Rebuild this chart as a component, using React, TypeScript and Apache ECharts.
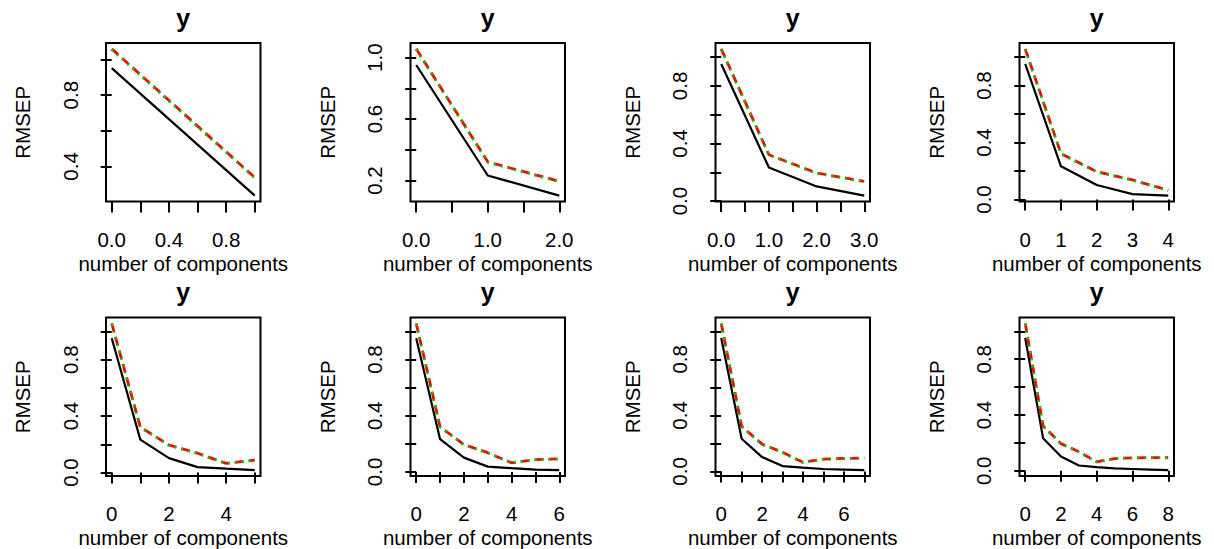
import React, { useEffect, useRef } from "react";
import * as echarts from "echarts";

// RMSEP values by number of components (0..8)
const trainRmsep = [0.952, 0.233, 0.102, 0.038, 0.027, 0.017, 0.013, 0.009, 0.005];
const cvRmsep = [1.057, 0.322, 0.195, 0.137, 0.065, 0.088, 0.093, 0.095, 0.094];
const adjCvRmsep = [1.052, 0.318, 0.192, 0.134, 0.063, 0.086, 0.091, 0.093, 0.092];
// the one-component model (first panel)
const trainOneComp = [0.952, 0.236];
const cvOneComp = [1.06, 0.338];
const adjCvOneComp = [1.055, 0.334];

const panelComponents = [1, 2, 3, 4, 5, 6, 7, 8];
const panelTitle = "y";
const xAxisTitle = "number of components";
const yAxisTitle = "RMSEP";

const xTickValues = [
  [0, 0.2, 0.4, 0.6, 0.8, 1],
  [0, 0.5, 1, 1.5, 2],
  [0, 0.5, 1, 1.5, 2, 2.5, 3],
  [0, 1, 2, 3, 4],
  [0, 1, 2, 3, 4, 5],
  [0, 1, 2, 3, 4, 5, 6],
  [0, 1, 2, 3, 4, 5, 6, 7],
  [0, 2, 4, 6, 8],
];
const xLabelValues = [
  [0, 0.4, 0.8],
  [0, 1, 2],
  [0, 1, 2, 3],
  [0, 1, 2, 3, 4],
  [0, 2, 4],
  [0, 2, 4, 6],
  [0, 2, 4, 6],
  [0, 2, 4, 6, 8],
];
const xLabelDecimals = [1, 1, 1, 0, 0, 0, 0, 0];
const yTickFull = [0, 0.2, 0.4, 0.6, 0.8, 1.0];
const yTickValues = [
  [0.4, 0.6, 0.8, 1.0],
  [0.2, 0.4, 0.6, 0.8, 1.0],
  yTickFull, yTickFull, yTickFull, yTickFull, yTickFull, yTickFull,
];
const yLabelValues = [
  [0.4, 0.8],
  [0.2, 0.6, 1.0],
  [0, 0.4, 0.8], [0, 0.4, 0.8], [0, 0.4, 0.8], [0, 0.4, 0.8], [0, 0.4, 0.8], [0, 0.4, 0.8],
];

const COL_LEFT = [106, 410.5, 715.5, 1019.5];
const ROW_TOP = [43, 317.5];
const BOX_W = 154.5;
const BOX_H = 158.5;
const FONT = "'Liberation Sans', Arial, Helvetica, sans-serif";
const FS = 20.5;

export default function App() {
  const ref = useRef<HTMLDivElement>(null);
  useEffect(() => {
    if (!ref.current) return;
    const chart = echarts.init(ref.current, undefined, { renderer: "svg" });
    const grids: any[] = [];
    const xAxes: any[] = [];
    const yAxes: any[] = [];
    const series: any[] = [];
    const graphics: any[] = [];

    panelComponents.forEach((k, i) => {
      const r = Math.floor(i / 4);
      const c = i % 4;
      const left = COL_LEFT[c];
      const top = ROW_TOP[r];
      const tr = k === 1 ? trainOneComp : trainRmsep.slice(0, k + 1);
      const cv = k === 1 ? cvOneComp : cvRmsep.slice(0, k + 1);
      const adj = k === 1 ? adjCvOneComp : adjCvRmsep.slice(0, k + 1);
      const all = [...tr, ...cv, ...adj];
      const lo = Math.min(...all);
      const hi = Math.max(...all);
      const pad = (hi - lo) * 0.04;

      grids.push({
        left,
        top,
        width: BOX_W,
        height: BOX_H,
        show: true,
        borderColor: "#000",
        borderWidth: 2,
        backgroundColor: "transparent",
        containLabel: false,
      });
      const dec = xLabelDecimals[i];
      xAxes.push({
        type: "value",
        gridIndex: i,
        min: -0.04 * k,
        max: 1.04 * k,
        name: xAxisTitle,
        nameLocation: "middle",
        nameGap: 51,
        nameTextStyle: { fontSize: FS, color: "#000", fontFamily: FONT },
        axisLine: { show: false },
        splitLine: { show: false },
        axisTick: {
          show: true,
          length: 11,
          customValues: xTickValues[i],
          lineStyle: { color: "#000", width: 2 },
        },
        axisLabel: {
          show: true,
          customValues: xLabelValues[i],
          margin: 27,
          fontSize: FS,
          color: "#000",
          fontFamily: FONT,
          formatter: (v: number) => Number(v).toFixed(dec),
        },
      });
      yAxes.push({
        type: "value",
        gridIndex: i,
        min: lo - pad,
        max: hi + pad,
        name: yAxisTitle,
        nameLocation: "middle",
        nameGap: 73,
        nameRotate: 90,
        nameTextStyle: { fontSize: FS, color: "#000", fontFamily: FONT },
        axisLine: { show: false },
        splitLine: { show: false },
        axisTick: {
          show: true,
          length: 11,
          customValues: yTickValues[i],
          lineStyle: { color: "#000", width: 2 },
        },
        axisLabel: {
          show: true,
          rotate: 90,
          customValues: yLabelValues[i],
          margin: 25.5,
          fontSize: FS,
          color: "#000",
          fontFamily: FONT,
          formatter: (v: number) => Number(v).toFixed(1),
        },
      });
      const mk = (vals: number[]) => vals.map((v, j) => [j, v]);
      series.push({
        type: "line",
        xAxisIndex: i,
        yAxisIndex: i,
        data: mk(tr),
        symbol: "none",
        lineStyle: { color: "#000", width: 2.2, type: "solid" },
        z: 2,
      });
      series.push({
        type: "line",
        xAxisIndex: i,
        yAxisIndex: i,
        data: mk(cv),
        symbol: "none",
        lineStyle: { color: "#FF0000", width: 2.8, type: [9, 5] },
        z: 3,
      });
      series.push({
        type: "line",
        xAxisIndex: i,
        yAxisIndex: i,
        data: mk(adj),
        symbol: "none",
        lineStyle: { color: "#00CD00", width: 2.6, type: [2, 5] },
        z: 4,
      });
      graphics.push({
        type: "text",
        x: left + BOX_W / 2,
        y: top - 25.5,
        style: {
          text: panelTitle,
          fontSize: 25,
          fontWeight: "bold",
          fontFamily: FONT,
          fill: "#000",
          align: "center",
          verticalAlign: "middle",
        },
      });
    });

    chart.setOption({
      animation: false,
      backgroundColor: "#fff",
      grid: grids,
      xAxis: xAxes,
      yAxis: yAxes,
      series,
      graphic: graphics,
    });
    return () => chart.dispose();
  }, []);
  return (
    <div
      ref={ref}
      style={{ position: "absolute", left: 0, top: 0, width: 1214, height: 549, background: "#fff" }}
    />
  );
}
